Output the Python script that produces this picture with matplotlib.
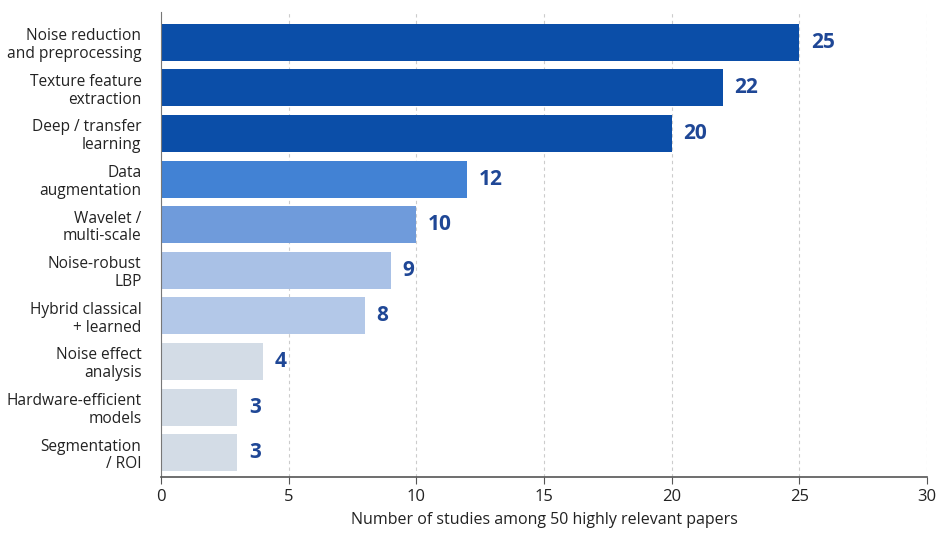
import matplotlib.pyplot as plt
import numpy as np

plt.rcParams['font.family'] = ['Open Sans', 'DejaVu Sans']

categories = [
    "Noise reduction\nand preprocessing",
    "Texture feature\nextraction",
    "Deep / transfer\nlearning",
    "Data\naugmentation",
    "Wavelet /\nmulti-scale",
    "Noise-robust\nLBP",
    "Hybrid classical\n+ learned",
    "Noise effect\nanalysis",
    "Hardware-efficient\nmodels",
    "Segmentation\n/ ROI",
]
counts = [25, 22, 20, 12, 10, 9, 8, 4, 3, 3]
colors = ["#0b4ea8", "#0b4ea8", "#0b4ea8", "#4282d4", "#6f9bdb",
          "#a9c1e6", "#b3c8e8", "#d3dce6", "#d3dce6", "#d3dce6"]

fig = plt.figure(figsize=(9.46, 5.34), dpi=100)
ax = fig.add_axes([0.170, 0.107, 0.810, 0.871])

y = np.arange(len(categories))
ax.barh(y, counts, height=0.81, color=colors, zorder=2)

# value labels at bar ends
for yi, v in zip(y, counts):
    ax.text(v + 0.45, yi, str(v), va='center', ha='left',
            fontsize=15, fontweight='bold', color='#1f4796')

ax.set_yticks(y)
ax.set_yticklabels(categories, fontsize=11.2, color='#222222', linespacing=1.15)
ax.set_ylim(len(categories) - 1 + 0.53, -0.67)
ax.set_xlim(0, 30)
ax.set_xticks(np.arange(0, 31, 5))
ax.tick_params(axis='x', labelsize=12, colors='#222222', length=5, color='#555555')
ax.tick_params(axis='y', length=0, pad=14)
ax.set_xlabel("Number of studies among 50 highly relevant papers",
              fontsize=11.5, color='#222222', labelpad=5)

ax.grid(axis='x', linestyle=(0, (3, 3)), color='#cccccc', linewidth=0.8, zorder=0)
for s in ['top', 'right']:
    ax.spines[s].set_visible(False)
ax.spines['left'].set_color('#777777')
ax.spines['bottom'].set_color('#555555')
ax.spines['bottom'].set_linewidth(1.2)

fig.savefig("out.png", dpi=100)
